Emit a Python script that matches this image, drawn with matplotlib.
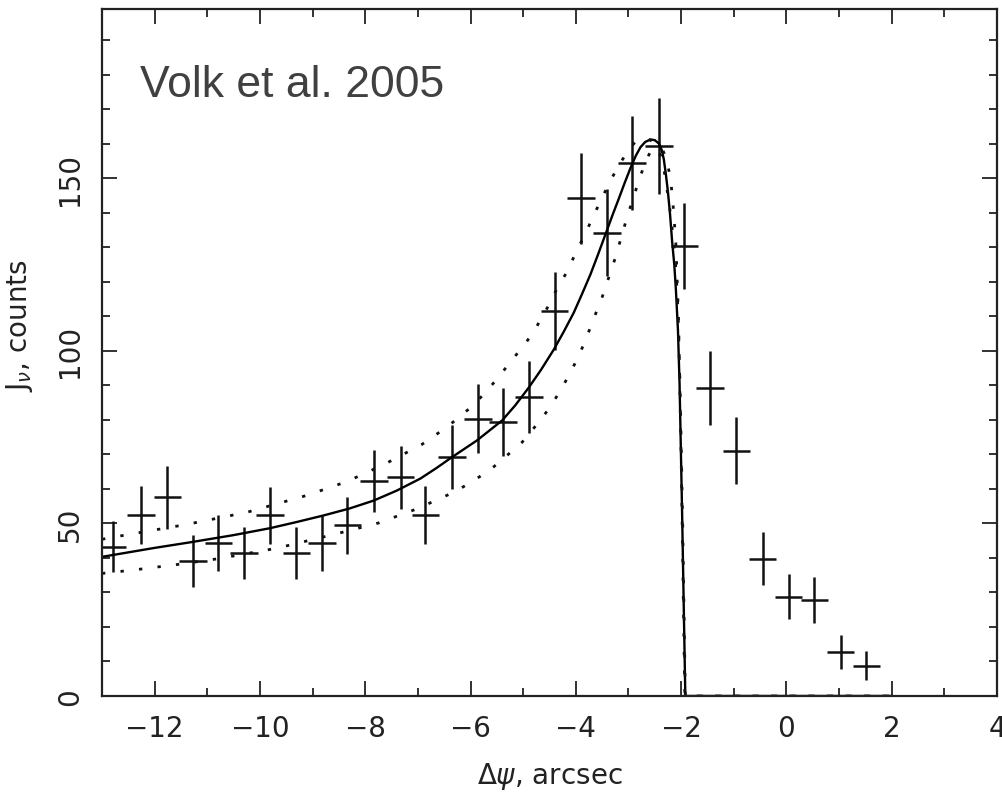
import matplotlib
matplotlib.use('Agg')
import matplotlib.pyplot as plt
from matplotlib.ticker import MultipleLocator

# observed profile (counts vs offset)
x_obs = [-12.80, -12.26, -11.76, -11.27, -10.79, -10.30, -9.81, -9.31, -8.82, -8.34,
         -7.83, -7.33, -6.86, -6.35, -5.86, -5.38, -4.89, -4.40, -3.90, -3.41,
         -2.93, -2.42, -1.94, -1.45, -0.95, -0.45, 0.04, 0.53, 1.03, 1.52]
j_obs = [43.3, 52.3, 57.5, 39.2, 44.3, 41.4, 52.3, 41.4, 44.3, 49.4,
         62.2, 63.3, 52.3, 69.2, 80.3, 79.3, 86.5, 111.4, 144.2, 134.2,
         154.4, 159.3, 130.4, 89.1, 71.1, 39.8, 28.8, 27.8, 12.7, 8.8]
j_err = [7.3, 8.4, 9.0, 7.5, 8.0, 7.5, 8.3, 7.5, 8.0, 8.2,
         9.0, 9.0, 8.4, 9.3, 10.0, 9.8, 10.4, 11.3, 13.2, 12.6,
         13.5, 14.0, 12.5, 10.7, 9.6, 7.7, 6.6, 6.6, 4.9, 4.3]

# model profile (solid)
x_fit = [-13.0, -12.0, -11.33, -10.5, -9.81, -9.3, -8.79, -8.3, -7.84, -7.4,
         -6.95, -6.65, -6.35, -5.88, -5.40, -5.15, -4.90, -4.66, -4.42, -4.23,
         -4.04, -3.88, -3.72, -3.58, -3.44, -3.31, -3.18, -3.07, -2.96, -2.86,
         -2.77, -2.68, -2.58, -2.50, -2.42, -2.37, -2.33, -2.29, -2.25, -2.21,
         -2.17, -2.13, -2.10, -2.06, -2.03, -1.98, -1.92, 2.0]
j_fit = [40.3, 42.9, 44.5, 46.6, 48.6, 50.4, 52.3, 54.3, 56.6, 59.5,
         63.0, 66.0, 69.2, 74.0, 79.8, 84.2, 89.2, 94.5, 100.3, 105.5,
         111.0, 116.5, 122.2, 127.8, 133.6, 139.0, 144.2, 148.7, 153.0, 156.5,
         159.0, 160.5, 161.2, 161.0, 160.0, 158.2, 155.6, 151.2, 146.0, 139.5,
         131.5, 125.0, 118.0, 106.0, 90.9, 52.2, 0.0, 0.0]

# upper and lower model profiles (dotted)
x_up = [-13.0, -12.6, -11.39, -10.25, -9.11, -8.35, -7.65, -6.92, -6.60, -6.29,
        -5.98, -5.71, -5.45, -5.21, -4.96, -4.74, -4.55, -4.36, -4.17, -4.00,
        -3.83, -3.66, -3.49, -3.31, -3.13, -2.99, -2.87, -2.75, -2.61, -2.45,
        -2.35, -2.28, -2.20, -2.14, -2.10, -2.05, -2.00, -1.93, 2.0]
j_up = [45.4, 46.5, 49.7, 53.2, 58.1, 62.1, 67.0, 72.9, 76.3, 79.8,
        83.8, 88.0, 92.7, 97.4, 102.0, 107.1, 112.2, 117.9, 122.8, 128.4,
        133.6, 139.2, 144.7, 150.2, 155.0, 158.3, 160.5, 161.5, 161.2, 159.8,
        158.2, 155.5, 150.0, 140.0, 131.0, 110.0, 70.0, 0.0, 0.0]

x_lo = [-13.0, -12.4, -11.61, -10.82, -9.68, -8.54, -7.75, -7.02, -6.64, -6.29,
        -5.94, -5.62, -5.32, -5.02, -4.77, -4.53, -4.31, -4.12, -3.94, -3.79,
        -3.65, -3.50, -3.25, -3.03, -2.79, -2.67, -2.57, -2.48, -2.39, -2.32,
        -2.26, -2.20, -2.15, -2.10, -2.06, -2.02, -1.97, -1.92, 2.0]
j_lo = [35.5, 36.5, 38.0, 39.7, 42.8, 47.0, 50.1, 54.2, 56.8, 59.2,
        62.4, 65.6, 69.5, 73.5, 78.1, 82.8, 88.0, 93.2, 98.6, 104.1,
        109.7, 115.5, 126.9, 138.5, 149.9, 155.0, 158.0, 158.8, 156.5, 152.0,
        146.0, 139.5, 132.5, 124.0, 112.0, 90.0, 50.0, 0.0, 0.0]

tick_font = ['Liberation Sans Narrow', 'DejaVu Sans']

fig = plt.figure(figsize=(10.03, 8.04), dpi=100)
ax = fig.add_axes([0.1017, 0.1331, 0.8923, 0.8545])

ax.errorbar(x_obs, j_obs, yerr=j_err, xerr=0.26, fmt='none',
            ecolor='#111111', elinewidth=1.8, capsize=0)
ax.plot(x_fit, j_fit, color='black', lw=1.7)
ax.plot(x_up, j_up, color='#111111', lw=2.0, ls=(0, (1.2, 5.5)))
ax.plot(x_lo, j_lo, color='#111111', lw=2.0, ls=(0, (1.2, 5.5)))

ax.set_xlim(-13, 4)
ax.set_ylim(0, 199)
ax.xaxis.set_major_locator(MultipleLocator(2))
ax.xaxis.set_minor_locator(MultipleLocator(1))
ax.yaxis.set_major_locator(MultipleLocator(50))
ax.yaxis.set_minor_locator(MultipleLocator(10))
ax.tick_params(which='both', direction='in', top=True, right=True,
               colors='#222222', width=1.3)
ax.tick_params(which='major', length=11, pad=13)
ax.tick_params(which='minor', length=6)
for s in ax.spines.values():
    s.set_linewidth(1.6)
    s.set_color('#222222')

for lab in ax.get_xticklabels() + ax.get_yticklabels():
    lab.set_fontfamily(tick_font)
    lab.set_fontsize(20)
plt.setp(ax.get_yticklabels(), rotation=90, va='center')

ax.set_xlabel(r'$\Delta\psi$, arcsec', fontsize=20, family=tick_font, color='#222222')
ax.xaxis.set_label_coords(0.5, -0.093)
ax.set_ylabel(r'J$_\nu$, counts', fontsize=20, family=tick_font, color='#222222')
ax.yaxis.set_label_coords(-0.075, 0.54)

ax.text(0.0425, 0.873, 'Volk et al. 2005', transform=ax.transAxes,
        fontsize=32, color='#404040', family='Liberation Sans', va='baseline')

fig.savefig('out.png', dpi=100)
